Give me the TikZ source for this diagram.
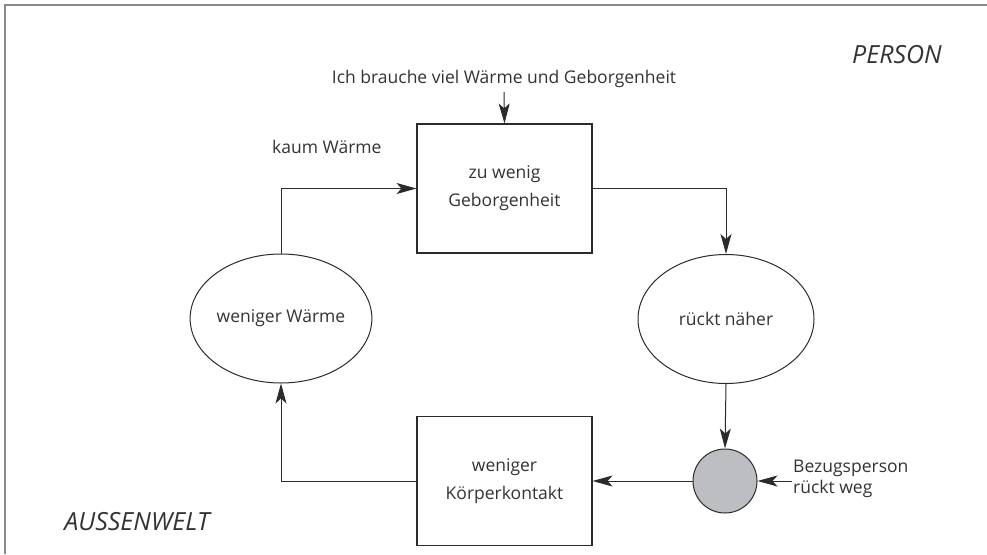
\documentclass[tikz,border=0pt]{standalone}
\usepackage{fontspec}
\setmainfont{Open Sans}
\usetikzlibrary{arrows.meta,shapes.geometric}
\definecolor{ink}{HTML}{2B2B2B}
\definecolor{txt}{HTML}{333333}
\definecolor{framegray}{HTML}{8A8A8A}
\definecolor{dotfill}{HTML}{BDBEC2}
\begin{document}
\begin{tikzpicture}[x=1pt,y=-1pt,
  lbl/.style={font=\fontsize{17.5}{28}\selectfont, text=txt, align=center},
  stepbox/.style={draw=ink, line width=1.1pt, minimum width=175pt, minimum height=129pt, lbl},
  state/.style={ellipse, draw=ink, line width=1.0pt, minimum width=176pt, minimum height=129pt, inner sep=0pt, lbl},
  event/.style={circle, draw=ink, line width=1.0pt, fill=dotfill, minimum size=64pt, inner sep=0pt},
  conn/.style={draw=ink, line width=1.0pt},
  arr/.style={conn, -{Stealth[length=20pt,width=11pt,inset=5pt]}},
  zone/.style={font=\fontsize{25}{28}\selectfont\itshape, text=txt}]
  \useasboundingbox (0,0) rectangle (987,554);
  % outer frame, open at right and bottom
  \draw[framegray, line width=1.2pt] (5,554) -- (5,5) -- (987,5);

  % area labels
  \node[zone] (person) at (897,55) {PERSON};
  \node[zone] (aussen) at (137,522) {AUSSENWELT};

  % process boxes
  \node[stepbox] (need) at (504.5,188.5) {zu wenig\\Geborgenheit};
  \node[stepbox] (contact) at (504.5,481) {weniger\\Körperkontakt};

  % reactions
  \node[state] (less) at (281,318.5) {weniger Wärme};
  \node[state] (closer) at (726,319) {rückt näher};

  % external event
  \node[event] (away) at (725,481) {};

  % free labels
  \node[lbl] (wish) at (504,79) {Ich brauche viel Wärme und Geborgenheit};
  \node[lbl, anchor=west, inner sep=0pt] (kaum) at (272,147) {kaum Wärme};
  \node[lbl, align=left, anchor=west, inner sep=0pt, font=\fontsize{17.5}{20.5}\selectfont] (bez) at (793,479) {Bezugsperson\\rückt weg};
  \coordinate (wishend) at (504,92);
  \coordinate (bezend) at (792,481);

  % cycle connectors
  \draw[arr] (wishend) -- (need.north);
  \draw[arr] (need.east) -| (closer.north);
  \draw[arr] (closer.south) -- (away.north);
  \draw[arr] (bezend) -- (away.east);
  \draw[arr] (away.west) -- (contact.east);
  \draw[arr] (contact.west) -| (less.south);
  \draw[arr] (less.north) |- (need.west);
\end{tikzpicture}
\end{document}
